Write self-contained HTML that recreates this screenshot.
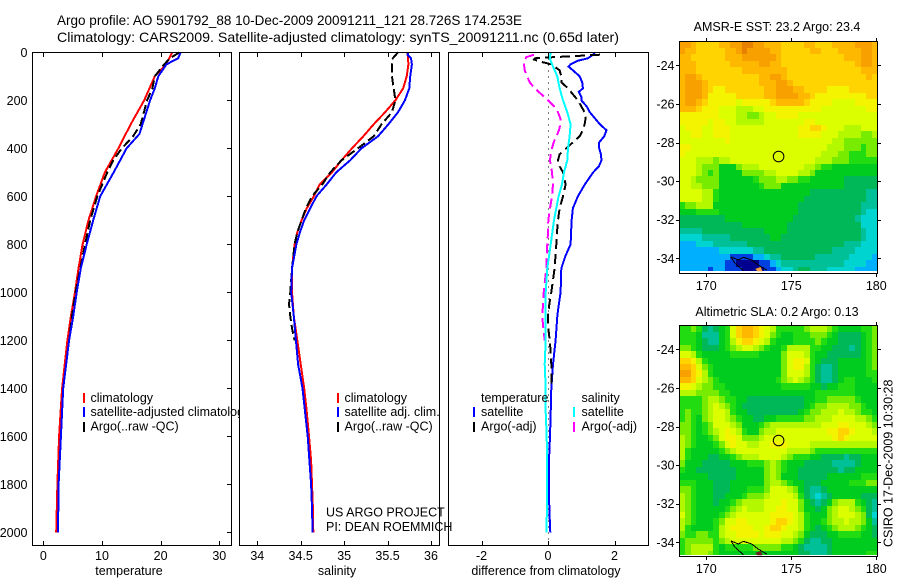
<!DOCTYPE html>
<html lang="en">
<head>
<meta charset="utf-8">
<title>Argo profile</title>
<style>
html,body{margin:0;padding:0;background:#fff;}
svg{display:block;}
text{font-family:"Liberation Sans",sans-serif;font-size:12.5px;fill:#000;}
.frame{fill:none;stroke:#000;stroke-width:1;shape-rendering:crispEdges;}
.bg{fill:#fff;stroke:none;}
.tick{stroke:#000;stroke-width:1;shape-rendering:crispEdges;}
.ln{fill:none;stroke-width:2;shape-rendering:crispEdges;stroke-linejoin:miter;}
.key{stroke-width:2;shape-rendering:crispEdges;}
.cell{shape-rendering:crispEdges;}
</style>
</head>
<body>
<svg id="figure" width="900" height="580" viewBox="0 0 900 580" xmlns="http://www.w3.org/2000/svg">
  <rect class="bg" x="0" y="0" width="900" height="580"/>
  <text x="57" y="25" textLength="465" lengthAdjust="spacingAndGlyphs" style="font-size:14px">Argo profile: AO 5901792_88 10-Dec-2009 20091211_121 28.726S 174.253E</text>
  <text x="57" y="42" textLength="562" lengthAdjust="spacingAndGlyphs" style="font-size:14px">Climatology: CARS2009. Satellite-adjusted climatology: synTS_20091211.nc (0.65d later)</text>

  <g id="panel-temp">
    <rect class="bg" x="32" y="52" width="199" height="493"/>
    <g id="temp-marks"></g>
    <rect class="frame" x="32.5" y="52.5" width="199" height="493"/>
    <g id="temp-ticks"></g>
    <text x="129" y="575" text-anchor="middle">temperature</text>
    <line class="key" x1="84" y1="393" x2="84" y2="403" stroke="#f00"/>
    <text x="90.5" y="402">climatology</text>
    <line class="key" x1="84" y1="407" x2="84" y2="417" stroke="#00f"/>
    <text x="90.5" y="416">satellite-adjusted climatology</text>
    <line class="key" x1="84" y1="422" x2="84" y2="432" stroke="#000"/>
    <text x="90.5" y="430.5">Argo(..raw -QC)</text>
  </g>

  <g id="panel-salt">
    <rect class="bg" x="239" y="52" width="200" height="493"/>
    <g id="salt-marks"></g>
    <rect class="frame" x="239.5" y="52.5" width="200" height="493"/>
    <g id="salt-ticks"></g>
    <text x="337" y="575" text-anchor="middle">salinity</text>
    <line class="key" x1="338" y1="393" x2="338" y2="403" stroke="#f00"/>
    <text x="344.5" y="402">climatology</text>
    <line class="key" x1="338" y1="407" x2="338" y2="417" stroke="#00f"/>
    <text x="344.5" y="416">satellite adj. clim.</text>
    <line class="key" x1="338" y1="422" x2="338" y2="432" stroke="#000"/>
    <text x="344.5" y="430.5">Argo(..raw -QC)</text>
  </g>

  <g id="panel-diff">
    <rect class="bg" x="448" y="52" width="200" height="493"/>
    <g id="diff-marks"></g>
    <rect class="frame" x="448.5" y="52.5" width="200" height="493"/>
    <g id="diff-ticks"></g>
    <text x="546" y="575" text-anchor="middle">difference from climatology</text>
    <text x="481" y="402">temperature</text>
    <line class="key" x1="474" y1="407" x2="474" y2="417" stroke="#00f"/>
    <text x="481" y="416">satellite</text>
    <line class="key" x1="474" y1="422" x2="474" y2="432" stroke="#000"/>
    <text x="481" y="430.5">Argo(-adj)</text>
    <text x="581.5" y="402">salinity</text>
    <line class="key" x1="574" y1="407" x2="574" y2="417" stroke="#0ff"/>
    <text x="581.5" y="416">satellite</text>
    <line class="key" x1="574" y1="422" x2="574" y2="432" stroke="#f0f"/>
    <text x="581.5" y="430.5">Argo(-adj)</text>
  </g>

  <text x="326" y="516.5">US ARGO PROJECT</text>
  <text x="326" y="531">PI: DEAN ROEMMICH</text>

  <g id="map-sst"></g>
  <g id="map-sla"></g>
  <text x="777" y="31" text-anchor="middle">AMSR-E SST: 23.2 Argo: 23.4</text>
  <text x="777" y="316" text-anchor="middle">Altimetric SLA: 0.2 Argo: 0.13</text>
  <text transform="translate(892.5 547) rotate(-90)">CSIRO 17-Dec-2009 10:30:28</text>
</svg>

<script>
/* ---------- profile data ---------- */
const tempTicks = [0, 10, 20, 30];
const saltTicks = [34, 34.5, 35, 35.5, 36];
const diffTicks = [-2, 0, 2];
const depthTicks = [0, 200, 400, 600, 800, 1000, 1200, 1400, 1600, 1800, 2000];

const tempClimDepth = [0,50,100,150,200,300,400,500,600,700,800,900,1000,1100,1200,1400,1600,1800,2000];
const tempClimValue = [22,20.9,19,18.1,17.2,14.9,12.8,10.5,9,7.7,6.7,6,5.4,4.7,4.1,3.2,2.7,2.4,2.2];
const tempSatDepth = [0,25,50,100,150,200,300,340,400,500,600,700,800,900,1000,1100,1200,1400,1600,1800,2000];
const tempSatValue = [23.4,23,21,19.6,19,18.2,16.9,16.4,14.2,12,9.7,8.5,7.4,6.4,5.7,5.1,4.4,3.4,3,2.6,2.5];
const tempArgoDepth = [0,25,50,100,150,200,300,350,400,450,500,600,700,800,900,1000,1100,1200];
const tempArgoValue = [23.2,21.6,20.6,19,18.6,17.7,16.6,15.3,13.4,11.9,10.9,9.2,8,7.1,6.3,5.5,4.9,4.4];

const saltClimDepth = [0,25,50,100,150,200,250,300,350,400,450,500,550,600,650,700,750,800,900,1000,1100,1200,1300,1400,1500,1600,1700,1800,1900,2000];
const saltClimValue = [35.73,35.735,35.74,35.72,35.68,35.59,35.47,35.34,35.22,35.09,34.97,34.86,34.72,34.65,34.57,34.51,34.46,34.43,34.4,34.4,34.42,34.46,34.5,34.54,34.57,34.595,34.62,34.63,34.64,34.645];
const saltSatDepth = [0,10,25,50,100,150,200,250,300,350,400,450,500,550,600,650,700,750,800,900,1000,1100,1200,1300,1400,1500,1600,1700,1800,1900,2000];
const saltSatValue = [35.74,35.73,35.77,35.78,35.76,35.75,35.7,35.62,35.51,35.39,35.2,35.07,34.91,34.8,34.68,34.61,34.54,34.49,34.45,34.4,34.39,34.42,34.445,34.47,34.52,34.55,34.58,34.6,34.62,34.63,34.637];
const saltArgoDepth = [0,25,50,100,150,200,250,300,350,400,450,500,550,600,650,700,750,800,900,1000,1050,1100,1150,1200];
const saltArgoValue = [35.62,35.56,35.55,35.55,35.57,35.59,35.55,35.43,35.34,35.16,34.97,34.84,34.75,34.63,34.56,34.51,34.46,34.43,34.4,34.38,34.365,34.38,34.4,34.43];

const diffTempSatDepth = [0,10,25,35,50,60,75,100,125,150,165,185,200,225,250,275,300,325,350,375,400,425,450,475,500,550,600,650,700,800,850,900,1000,1075,1100,1200,1300,1400,1500,1600,1700,1800,1900,2000];
const diffTempSatValue = [1.41,1.36,1.2,0.9,0.68,0.62,0.75,0.95,1.03,1.05,0.93,1,1,1.16,1.26,1.41,1.56,1.76,1.69,1.54,1.54,1.59,1.61,1.53,1.36,1.11,0.9,0.75,0.71,0.68,0.52,0.4,0.38,0.3,0.28,0.23,0.15,0.1,0.08,0.06,0.03,0.03,0.04,0.07];
const diffTempArgoDepth = [10,15,20,25,30,40,50,75,100,125,150,175,200,225,250,275,300,325,350,375,400,425,450,475,500,550,600,650,700,750,800,900,1000,1050,1100,1150,1200,1250,1300,1350,1400];
const diffTempArgoValue = [1.56,0.9,0.2,-0.4,-0.42,-0.2,0.1,0.35,0.4,0.4,0.6,0.75,0.9,1,1.1,1.13,1.1,1.05,0.95,0.75,0.55,0.35,0.3,0.35,0.45,0.53,0.45,0.35,0.3,0.27,0.25,0.2,0.1,0.04,0,0.01,0.05,0.08,0.1,0.1,0.1];
const diffSaltSatDepth = [0,25,50,75,100,150,200,250,300,350,400,450,500,550,600,650,700,800,900,1000,1100,1200,1300,1400,1500,1600,1700,1800,1900,2000];
const diffSaltSatValue = [0.08,0.05,0.12,0.2,0.28,0.35,0.45,0.58,0.68,0.65,0.6,0.58,0.48,0.42,0.32,0.25,0.18,0.08,-0.02,-0.07,-0.07,-0.07,-0.1,-0.07,-0.07,-0.04,-0.03,-0.03,-0.03,-0.05];
const diffSaltArgoDepth = [10,20,40,75,100,125,150,175,200,225,250,275,300,325,350,375,400,425,450,500,550,600,650,700,750,800,900,1000,1050,1100,1150,1200];
const diffSaltArgoValue = [-0.42,-0.65,-0.73,-0.7,-0.63,-0.55,-0.4,-0.2,0,0.18,0.3,0.37,0.37,0.33,0.25,0.17,0.12,0.08,0.06,0.12,0.15,0.12,0.06,0.01,0,-0.02,-0.05,-0.13,-0.15,-0.17,-0.14,-0.1];
const zeroLineDepths = [0, 2054];

/* ---------- map data (colour level per 1/3 degree cell) ---------- */
const mapLonTicks = [170, 175, 180];
const mapLatTicks = [-24, -26, -28, -30, -32, -34];
const floatLon = [174.253];
const floatLat = [-28.726];
const coastLon = [171.45,171.69,172.18];
const coastLat = [-33.92,-34.26,-34.64];
const coastTopLon = [171.45,171.88,172.18,172.67,173.06,173.55];
const coastTopLat = [-33.92,-34.09,-33.95,-34.09,-34.35,-34.61];
const palette = ['#000090','#0040e0','#00b0ff','#00d4d0','#00c098','#00b858','#00cc20','#20dc10','#78ec00','#b4f800','#dcff00','#f4f400','#ffd400','#ffb800','#f8a000','#e88000'];

const sstRows = [
[14,14,13,12,12,12,12,13,13,14,14,15,15,14,14,13,13,13,12,12,12,12,13,13,12,12,12,13,13,13,13,14,14,14,13],
[14,13,13,12,12,12,12,12,13,13,14,15,14,14,14,14,13,13,12,12,12,12,12,13,13,12,12,12,13,13,13,13,14,14,13],
[13,13,12,12,12,12,12,12,13,13,13,14,14,14,14,14,14,13,12,12,12,12,12,12,12,12,12,12,12,13,13,13,14,14,13],
[13,13,13,12,12,12,12,12,12,13,13,13,13,13,14,14,13,13,12,12,12,12,12,12,12,12,12,12,12,12,12,13,14,14,13],
[13,13,13,12,12,12,12,12,12,12,12,13,13,13,13,13,13,13,13,12,12,12,12,12,12,12,12,12,12,12,12,12,13,13,13],
[13,14,14,13,12,12,12,12,12,12,12,12,12,12,13,13,14,14,13,12,12,12,12,12,12,12,12,12,12,12,12,12,12,13,12],
[13,14,14,14,13,12,12,12,12,12,12,12,12,12,13,13,13,14,14,13,12,12,12,12,12,12,12,12,12,12,12,12,12,12,12],
[13,14,14,14,13,12,11,11,12,12,12,12,12,12,12,13,13,14,14,14,13,13,12,12,12,12,11,11,11,11,12,12,12,12,12],
[13,14,14,14,13,11,11,11,11,11,12,12,12,12,12,13,13,14,14,14,14,13,13,12,11,11,11,11,11,11,11,11,11,12,12],
[13,14,14,13,12,11,11,11,11,11,10,11,11,11,11,11,12,13,13,13,13,13,12,11,11,11,11,10,10,10,10,11,11,11,11],
[13,13,13,12,11,11,11,10,10,10,9,9,9,10,10,11,11,11,11,11,11,11,11,11,11,10,10,10,10,10,10,10,10,11,11],
[11,11,11,11,11,11,11,10,10,10,9,9,8,8,9,10,10,11,11,11,11,10,10,10,10,10,10,10,10,10,10,10,10,10,10],
[11,11,11,11,11,10,11,11,10,10,9,9,9,9,9,10,10,10,10,10,10,10,11,11,10,10,10,10,10,10,10,10,10,10,10],
[10,11,11,11,10,10,11,11,11,10,10,10,10,10,10,10,10,10,10,10,10,11,11,12,12,11,10,10,10,9,9,9,10,10,10],
[10,10,11,11,10,10,11,11,11,10,10,10,10,10,10,10,10,10,10,10,10,11,11,11,11,10,10,10,9,9,9,9,8,8,9],
[10,10,10,10,10,10,10,10,11,10,10,10,10,10,10,10,10,10,10,10,10,10,10,10,10,10,10,9,9,8,8,8,8,8,8],
[11,11,10,10,10,10,10,10,10,10,10,10,10,10,10,10,10,10,10,10,10,10,10,10,10,10,9,9,9,8,8,8,7,8,8],
[11,10,10,10,10,10,10,10,10,10,10,10,10,10,10,10,10,10,10,10,10,10,10,10,10,9,9,9,8,8,7,7,7,8,8],
[10,10,10,9,9,9,8,9,9,10,10,10,10,10,10,10,10,10,10,10,10,10,10,10,9,9,9,8,8,8,7,7,7,7,7],
[10,10,10,9,8,8,8,6,6,6,8,9,9,9,10,10,10,10,10,10,10,10,9,9,8,7,7,6,6,6,6,6,6,6,6],
[10,10,10,9,8,7,8,6,6,6,6,8,8,8,8,9,9,10,10,10,10,9,9,8,6,6,6,6,6,6,6,6,6,6,6],
[10,10,9,8,8,8,8,6,6,6,6,6,6,7,8,8,8,9,9,8,8,7,7,6,6,6,6,6,6,5,5,5,5,5,5],
[10,10,9,9,8,8,8,6,6,6,6,6,6,6,7,8,8,8,6,6,6,6,6,6,6,6,6,6,6,5,5,5,5,5,5],
[10,10,10,10,9,9,7,6,6,6,6,6,6,6,6,6,6,6,6,6,6,6,6,5,5,5,5,5,5,5,5,5,5,4,4],
[10,10,10,10,9,9,7,6,6,6,6,6,6,6,6,6,6,6,6,6,6,6,5,5,5,5,5,5,5,5,5,5,5,4,4],
[7,8,8,9,9,9,6,6,6,6,6,6,6,6,6,6,6,6,6,6,6,5,5,5,5,5,5,5,5,5,5,5,4,4,4],
[6,6,6,7,7,7,7,6,6,6,6,6,6,6,6,6,6,6,6,6,6,5,5,5,5,5,5,5,5,5,5,5,4,3,3],
[5,5,5,5,5,5,5,5,6,6,6,6,6,6,6,6,6,6,6,6,5,5,5,5,5,5,5,5,5,5,5,4,3,3,3],
[5,5,5,5,5,5,5,5,5,5,5,6,6,6,6,6,6,6,6,5,5,5,5,5,5,5,5,5,5,5,5,5,3,3,3],
[4,4,4,4,5,5,5,5,5,5,5,5,5,5,5,6,6,6,6,5,5,5,5,5,5,5,5,5,5,5,5,5,4,3,3],
[3,3,3,3,4,4,4,4,4,5,5,5,5,5,5,5,6,6,5,5,5,5,5,5,5,5,5,5,5,5,5,5,4,3,3],
[2,2,2,3,3,3,4,4,4,4,4,4,5,5,5,5,5,5,5,5,5,5,5,5,5,5,5,5,5,4,4,4,3,3,3],
[2,2,2,2,2,2,2,3,3,3,3,3,3,4,4,5,5,5,5,5,5,5,5,5,5,5,5,4,4,4,4,3,3,3,3],
[2,2,2,2,2,2,2,2,2,1,1,1,1,2,2,3,4,4,5,5,5,5,5,5,4,4,4,4,4,4,3,3,3,3,2],
[2,2,2,2,2,2,2,2,1,1,0,0,0,0,1,1,2,3,4,4,4,4,4,4,4,4,4,4,4,3,3,3,3,2,2],
[2,2,2,2,2,1,2,2,1,1,1,0,0,0,0,1,1,2,3,3,4,5,5,4,4,4,3,3,3,3,3,2,2,2,2]
];

const slaRows = [
[7,7,8,7,5,4,5,6,7,10,12,13,13,12,11,10,9,7,7,7,7,7,8,9,9,9,8,7,6,6,6,6,7,7,8],
[7,7,7,6,4,4,4,6,7,10,12,13,13,12,11,10,8,7,6,6,7,7,7,8,8,8,7,6,5,5,5,5,6,7,8],
[7,7,7,6,5,4,4,6,7,9,11,12,12,11,10,9,7,6,6,6,7,7,7,7,8,7,6,6,5,5,5,5,6,7,8],
[8,8,7,6,5,5,5,6,7,8,9,10,10,9,8,7,6,6,7,9,9,9,9,7,7,6,6,5,5,5,4,5,6,7,8],
[10,10,9,7,6,6,6,6,6,7,7,7,7,7,6,6,6,6,8,10,10,10,9,7,6,6,5,5,5,5,5,5,6,7,8],
[12,12,11,9,7,6,6,6,6,6,6,6,6,6,6,6,6,6,8,10,11,11,10,7,6,5,5,5,6,6,6,6,6,7,8],
[13,13,12,10,8,7,6,6,6,6,6,6,6,6,6,6,6,6,8,10,11,11,9,7,5,4,4,5,6,6,6,6,6,7,8],
[14,14,12,11,9,7,6,6,6,6,6,6,6,6,6,6,6,6,8,10,10,10,9,7,5,4,4,5,6,6,6,6,6,7,7],
[13,13,12,10,9,8,7,6,6,6,6,6,6,6,6,6,6,7,8,9,10,9,8,7,5,4,4,5,6,7,7,6,6,6,7],
[11,11,10,9,8,8,7,7,6,6,6,6,6,6,6,6,6,6,7,7,7,7,7,6,6,5,6,6,7,7,7,6,6,6,6],
[9,9,9,8,8,8,8,7,7,6,6,6,6,6,6,6,6,6,6,6,6,6,6,6,7,7,7,7,7,7,7,6,6,6,6],
[7,7,7,7,8,9,9,8,7,7,6,6,5,5,5,5,5,5,5,5,5,5,6,6,7,7,8,8,8,8,8,7,6,6,6],
[7,7,7,7,8,9,10,9,8,7,6,5,5,5,5,5,5,5,5,5,5,5,6,7,8,8,9,9,9,9,8,8,7,6,6],
[7,8,7,7,8,9,10,10,9,7,6,6,5,5,5,5,5,5,5,5,5,6,7,8,8,9,9,9,10,9,9,8,7,7,6],
[7,8,7,6,8,9,10,10,9,8,7,6,6,5,5,6,6,7,7,7,7,7,8,8,9,9,9,10,10,10,10,9,9,8,7],
[8,8,7,6,7,8,10,10,10,9,8,6,6,6,7,8,9,9,9,9,9,9,9,9,9,10,10,10,11,11,10,10,10,9,8],
[8,8,7,6,7,8,9,10,11,10,9,7,6,6,8,9,9,10,10,10,10,10,10,10,10,10,11,11,12,12,11,10,10,10,9],
[9,8,7,6,6,7,8,10,11,11,10,8,8,8,9,10,10,10,10,10,10,10,10,10,10,10,10,11,12,11,10,10,10,10,10],
[9,8,7,6,6,6,7,8,10,11,10,10,9,9,10,10,11,11,11,10,10,10,10,9,9,9,9,9,9,9,9,9,9,9,9],
[9,7,6,6,6,6,6,7,8,9,10,10,10,10,10,10,10,10,10,9,9,9,9,8,7,7,7,7,7,7,7,7,7,7,7],
[9,7,6,6,6,5,5,6,6,7,8,9,9,9,10,10,10,10,9,8,7,7,7,6,6,5,5,5,5,4,5,5,6,6,6],
[8,6,6,6,5,5,5,5,5,6,6,6,7,7,7,8,9,8,7,6,6,6,5,5,5,5,5,4,4,4,4,5,6,6,6],
[7,6,6,5,5,5,5,5,5,5,6,6,6,6,6,8,9,8,7,6,6,5,5,5,5,5,5,5,4,5,5,6,6,6,6],
[6,6,6,6,6,5,5,5,5,5,6,6,6,6,6,8,9,8,6,6,6,5,5,5,5,5,6,6,6,6,6,6,7,7,7],
[7,7,7,6,6,6,5,5,5,6,6,6,6,6,6,8,9,9,8,7,6,6,5,5,5,6,6,6,6,6,7,7,7,8,8],
[8,8,7,6,6,6,5,5,5,6,6,6,7,7,7,8,10,10,10,9,8,6,5,4,4,5,6,6,6,6,6,6,6,6,6],
[9,8,7,6,6,6,5,5,6,6,6,7,8,8,8,9,10,10,10,10,9,7,5,4,3,4,5,6,6,6,6,6,5,5,5],
[9,8,7,6,6,6,5,6,6,7,8,9,9,9,9,10,10,10,11,10,10,8,6,5,4,5,6,8,9,9,9,7,6,5,4],
[9,8,7,6,6,6,6,6,7,8,9,10,9,9,9,10,10,11,11,10,10,8,6,6,5,6,8,9,10,10,9,8,7,5,4],
[10,8,7,6,6,6,6,7,8,9,10,10,10,10,10,10,11,11,11,11,10,9,7,6,6,6,8,9,10,10,10,9,8,5,3],
[9,8,7,6,6,6,7,8,10,10,11,11,10,10,10,10,11,12,12,11,10,9,7,6,6,7,8,9,9,10,9,9,8,6,4],
[9,7,6,6,6,6,7,9,10,11,11,11,11,10,10,11,12,12,11,10,10,9,7,6,5,6,7,8,9,9,9,8,7,6,5],
[8,7,7,8,8,7,7,9,10,10,11,11,11,11,10,11,11,11,10,10,9,8,6,5,5,5,6,6,7,7,7,7,6,6,5],
[7,8,8,8,8,8,7,8,9,10,10,10,10,10,10,10,10,10,9,9,8,7,5,4,4,5,5,6,6,6,6,6,6,6,6],
[7,8,9,9,9,9,7,6,7,7,7,7,7,8,8,8,8,8,7,7,6,5,4,4,4,4,5,6,6,6,6,6,6,6,6],
[7,8,9,9,9,8,7,6,6,6,6,6,6,6,6,6,6,6,6,6,6,5,5,4,4,4,5,6,6,6,6,6,6,7,7]
];

/* ---------- axis functions ---------- */
const SVGNS = 'http://www.w3.org/2000/svg';
const depthY = d => 52.3 + 0.24 * d;
const tempX = v => 43.3 + 5.867 * v;
const saltX = v => 257.3 + 86.85 * (v - 34);
const diffX = v => 548 + 33.25 * v;
const lonX = lon => 706.3 + 17 * (lon - 170);
const sstLatY = lat => 65.3 + 19.3 * (-lat - 24);
const slaLatY = lat => 349.3 + 19.3 * (-lat - 24);

function svgEl(tag, parent) {
  const el = document.createElementNS(SVGNS, tag);
  parent.appendChild(el);
  return el;
}
function drawProfile(parent, depths, values, xFn, colour, dash, width, name) {
  const el = svgEl('polyline', parent);
  el.setAttribute('class', 'ln');
  el.setAttribute('points', depths.map((d, i) => xFn(values[i]).toFixed(1) + ',' + depthY(d).toFixed(1)).join(' '));
  el.setAttribute('stroke', colour);
  el.setAttribute('stroke-width', width);
  if (dash) el.setAttribute('stroke-dasharray', dash);
  
  
}
function drawXAxis(parent, ticks, xFn, name) {
  ticks.forEach(v => {
    const x = Math.round(xFn(v)) + 0.5;
    const top = svgEl('line', parent);
    top.setAttribute('class', 'tick');
    top.setAttribute('x1', x); top.setAttribute('x2', x);
    top.setAttribute('y1', 52); top.setAttribute('y2', 57);
    
    
    const bot = svgEl('line', parent);
    bot.setAttribute('class', 'tick');
    bot.setAttribute('x1', x); bot.setAttribute('x2', x);
    bot.setAttribute('y1', 541); bot.setAttribute('y2', 546);
    
    
    const lab = svgEl('text', parent);
    lab.setAttribute('x', xFn(v));
    lab.setAttribute('y', 560);
    lab.setAttribute('text-anchor', 'middle');
    lab.textContent = String(v);
    
    
  });
}

/* temperature panel */
const tempMarks = document.getElementById('temp-marks');
drawProfile(tempMarks, tempClimDepth, tempClimValue, tempX, '#f00', null, 2.5, 'temperature-climatology-line');
drawProfile(tempMarks, tempArgoDepth, tempArgoValue, tempX, '#000', '9 4', 2.5, 'temperature-argo-line');
drawProfile(tempMarks, tempSatDepth, tempSatValue, tempX, '#00f', null, 2.5, 'temperature-satellite-line');
const tempAxis = document.getElementById('temp-ticks');
drawXAxis(tempAxis, tempTicks, tempX, 'temperature');
depthTicks.forEach(d => {
  const y = Math.round(depthY(d)) + 0.5;
  const t = svgEl('line', tempAxis);
  t.setAttribute('class', 'tick');
  t.setAttribute('x1', 227); t.setAttribute('x2', 232);
  t.setAttribute('y1', y); t.setAttribute('y2', y);
  
  
  const lab = svgEl('text', tempAxis);
  lab.setAttribute('x', 27.5);
  lab.setAttribute('y', depthY(d) + 4.5);
  lab.setAttribute('text-anchor', 'end');
  lab.textContent = String(d);
  
  
});

/* salinity panel */
const saltMarks = document.getElementById('salt-marks');
drawProfile(saltMarks, saltClimDepth, saltClimValue, saltX, '#f00', null, 2.5, 'salinity-climatology-line');
drawProfile(saltMarks, saltArgoDepth, saltArgoValue, saltX, '#000', '9 4', 2.5, 'salinity-argo-line');
drawProfile(saltMarks, saltSatDepth, saltSatValue, saltX, '#00f', null, 2.5, 'salinity-satellite-line');
drawXAxis(document.getElementById('salt-ticks'), saltTicks, saltX, 'salinity');

/* difference panel */
const diffMarks = document.getElementById('diff-marks');
const zero = svgEl('line', diffMarks);
zero.setAttribute('x1', Math.round(diffX(0)) + 0.5); zero.setAttribute('x2', Math.round(diffX(0)) + 0.5);
zero.setAttribute('y1', depthY(zeroLineDepths[0])); zero.setAttribute('y2', depthY(zeroLineDepths[1]));
zero.setAttribute('stroke', '#000');
zero.setAttribute('stroke-dasharray', '1 5');
zero.setAttribute('shape-rendering', 'crispEdges');


drawProfile(diffMarks, diffTempSatDepth, diffTempSatValue, diffX, '#00f', null, 2.2, 'diff-temperature-satellite-line');
drawProfile(diffMarks, diffTempArgoDepth, diffTempArgoValue, diffX, '#000', '10 5', 2.2, 'diff-temperature-argo-line');
drawProfile(diffMarks, diffSaltArgoDepth, diffSaltArgoValue, diffX, '#f0f', '10 5', 2.2, 'diff-salinity-argo-line');
drawProfile(diffMarks, diffSaltSatDepth, diffSaltSatValue, diffX, '#0ff', null, 3, 'diff-salinity-satellite-line');
drawXAxis(document.getElementById('diff-ticks'), diffTicks, diffX, 'difference');

/* maps */
function drawMap(group, rows, latY, top, bottom, dataBottom, landColour, prefix) {
  const firstLon = 168.41;
  const firstLat = -22.76;
  rows.forEach((row, r) => {
    row.forEach((level, c) => {
      const x0 = Math.round(lonX(firstLon + c / 3));
      const x1 = Math.min(877, Math.round(lonX(firstLon + (c + 1) / 3)));
      const y0 = Math.max(top, Math.round(latY(firstLat - r / 3)));
      const y1 = Math.min(dataBottom, Math.round(latY(firstLat - (r + 1) / 3)));
      if (y1 <= y0 || x1 <= x0) return;
      const cell = svgEl('rect', group);
      cell.setAttribute('class', 'cell');
      cell.setAttribute('x', x0);
      cell.setAttribute('y', y0);
      cell.setAttribute('width', x1 - x0);
      cell.setAttribute('height', y1 - y0);
      cell.setAttribute('fill', palette[level]);
      
      
    });
  });
  const land = svgEl('polygon', group);
  land.setAttribute('points', [[172.88,-34.55],[173.2,-34.45],[173.3,-34.67],[173.0,-34.67]].map(p => lonX(p[0]) + ',' + latY(p[1])).join(' '));
  land.setAttribute('fill', landColour);
  
  
  [[coastLon, coastLat], [coastTopLon, coastTopLat]].forEach(pair => {
    const coast = svgEl('polyline', group);
    coast.setAttribute('points', pair[0].map((lon, i) => lonX(lon).toFixed(1) + ',' + latY(pair[1][i]).toFixed(1)).join(' '));
    coast.setAttribute('fill', 'none');
    coast.setAttribute('stroke', '#000');
    coast.setAttribute('stroke-width', 1);
    coast.setAttribute('shape-rendering', 'crispEdges');
    
    
  });
  const frame = svgEl('rect', group);
  frame.setAttribute('class', 'frame');
  frame.setAttribute('x', 679.5);
  frame.setAttribute('y', top + 0.5);
  frame.setAttribute('width', 198);
  frame.setAttribute('height', bottom - top);
  
  
  mapLonTicks.forEach(lon => {
    const x = Math.round(lonX(lon)) + 0.5;
    [[top - 3, top], [bottom + 1, bottom + 4]].forEach(span => {
      const t = svgEl('line', group);
      t.setAttribute('class', 'tick');
      t.setAttribute('x1', x); t.setAttribute('x2', x);
      t.setAttribute('y1', span[0]); t.setAttribute('y2', span[1]);
      
      
    });
    const lab = svgEl('text', group);
    lab.setAttribute('x', lonX(lon));
    lab.setAttribute('y', bottom + 17);
    lab.setAttribute('text-anchor', 'middle');
    lab.textContent = String(lon);
    
    
  });
  mapLatTicks.forEach(lat => {
    const y = Math.round(latY(lat)) + 0.5;
    [[676, 679], [878, 881]].forEach(span => {
      const t = svgEl('line', group);
      t.setAttribute('class', 'tick');
      t.setAttribute('x1', span[0]); t.setAttribute('x2', span[1]);
      t.setAttribute('y1', y); t.setAttribute('y2', y);
      
      
    });
    const lab = svgEl('text', group);
    lab.setAttribute('x', 674.5);
    lab.setAttribute('y', latY(lat) + 4.5);
    lab.setAttribute('text-anchor', 'end');
    lab.textContent = String(lat);
    
    
  });
  const marker = svgEl('circle', group);
  marker.setAttribute('cx', lonX(floatLon[0]));
  marker.setAttribute('cy', latY(floatLat[0]));
  marker.setAttribute('r', 5.3);
  marker.setAttribute('fill', 'none');
  marker.setAttribute('stroke', '#000');
  marker.setAttribute('stroke-width', 1);
  
  
}
drawMap(document.getElementById('map-sst'), sstRows, sstLatY, 41, 273, 271, '#f0a040', 'sst');
drawMap(document.getElementById('map-sla'), slaRows, slaLatY, 325, 556, 555, '#702020', 'sla');
</script>
</body>
</html>
